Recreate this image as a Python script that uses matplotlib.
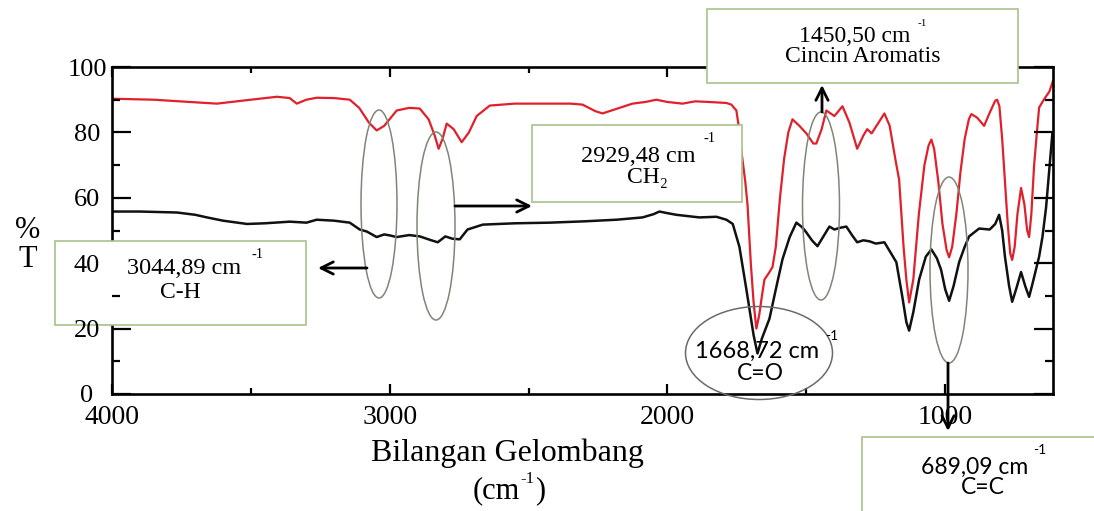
import matplotlib
matplotlib.use("Agg")
import matplotlib.pyplot as plt
from matplotlib.patches import Rectangle, Ellipse
from matplotlib.transforms import Affine2D

# ---------------- data ----------------
red_wn = [4000, 3850, 3700, 3622, 3500, 3406, 3360, 3335, 3300, 3263, 3200, 3144, 3110, 3075,
          3047, 3020, 2975, 2930, 2892, 2860, 2838, 2824, 2810, 2795, 2770, 2741, 2715, 2687,
          2640, 2550, 2450, 2350, 2306, 2260, 2234, 2180, 2126, 2080, 2040, 2000, 1946, 1900,
          1850, 1788, 1770, 1752, 1745, 1735, 1720, 1712, 1700, 1690, 1680, 1670, 1660, 1651,
          1635, 1622, 1610, 1595, 1580, 1565, 1550, 1525, 1500, 1475, 1464, 1445, 1428, 1399,
          1370, 1345, 1317, 1295, 1281, 1265, 1240, 1219, 1200, 1180, 1166, 1150, 1140, 1130,
          1115, 1095, 1075, 1060, 1050, 1040, 1025, 1010, 995, 986, 975, 960, 945, 930, 915,
          906, 885, 860, 840, 820, 813, 805, 795, 785, 775, 766, 759, 750, 740, 727, 715, 705,
          698, 690, 680, 670, 662, 645, 625, 612]
red_t = [90.3, 90.0, 89.2, 88.8, 90.0, 90.9, 90.5, 88.8, 90.0, 90.6, 90.5, 90.0, 87.5, 83.0,
         80.6, 82.0, 86.7, 87.5, 87.3, 84.0, 79.0, 75.0, 78.0, 82.7, 81.0, 77.0, 80.0, 85.0,
         88.2, 88.8, 88.8, 88.8, 88.5, 86.5, 85.8, 87.3, 88.8, 89.3, 90.0, 89.3, 88.8, 89.5,
         89.3, 89.0, 88.5, 86.7, 82.7, 75.0, 65.0, 58.0, 40.0, 28.0, 20.0, 24.0, 30.0, 35.0,
         37.0, 38.8, 45.0, 60.0, 72.0, 80.0, 84.0, 82.0, 79.7, 76.6, 76.6, 81.0, 86.7, 85.0,
         88.0, 83.0, 75.0, 79.0, 81.0, 79.7, 83.0, 85.8, 82.0, 72.0, 65.5, 45.0, 35.0, 28.0,
         35.0, 55.0, 70.0, 76.0, 77.8, 75.0, 65.0, 52.0, 44.0, 41.8, 45.0, 55.0, 68.0, 78.0, 84.0,
         85.6, 84.5, 82.0, 86.0, 89.7, 90.0, 88.0, 78.0, 65.0, 52.0, 43.0, 41.0, 45.0, 55.0, 63.0, 58.0, 50.0,
         48.0, 55.0, 70.0, 80.0, 87.6, 90.0, 92.5, 95.8]

black_wn = [4000, 3900, 3766, 3700, 3658, 3600, 3514, 3450, 3360, 3300, 3263, 3200, 3144, 3108,
            3083, 3047, 3020, 3000, 2975, 2930, 2892, 2850, 2827, 2800, 2775, 2748, 2720, 2665,
            2550, 2424, 2300, 2183, 2090, 2050, 2029, 2000, 1968, 1885, 1824, 1788, 1765, 1752,
            1741, 1716, 1690, 1676, 1660, 1633, 1610, 1586, 1560, 1536, 1515, 1500, 1480, 1460,
            1440, 1417, 1399, 1380, 1356, 1335, 1317, 1295, 1273, 1250, 1219, 1195, 1176, 1155,
            1140, 1130, 1115, 1094, 1070, 1050, 1030, 1015, 1000, 986, 970, 950, 930, 914, 878,
            840, 820, 806, 795, 785, 770, 759, 745, 727, 712, 698, 685, 662, 650, 637, 626, 614]
black_t = [55.8, 55.8, 55.5, 54.8, 54.0, 53.0, 52.0, 52.2, 52.7, 52.4, 53.3, 53.0, 52.4, 50.3,
           49.7, 48.0, 48.8, 48.5, 48.0, 48.6, 48.2, 47.0, 46.4, 48.2, 47.5, 47.3, 50.3, 51.8,
           52.2, 52.4, 52.8, 53.3, 54.0, 55.0, 55.8, 55.3, 54.8, 54.0, 54.2, 53.3, 52.0, 48.2,
           45.0, 32.0, 18.0, 12.4, 17.0, 23.0, 32.0, 41.2, 48.0, 52.4, 51.0, 49.4, 47.0, 45.2,
           48.0, 51.2, 50.3, 50.8, 51.2, 48.5, 46.4, 47.0, 46.7, 46.0, 46.4, 43.0, 40.3, 30.0,
           22.0, 19.4, 25.0, 35.0, 42.0, 44.2, 41.5, 38.0, 32.0, 28.5, 33.0, 40.3, 45.0, 48.2, 50.6,
           50.3, 52.0, 54.8, 50.0, 42.0, 33.0, 28.2, 32.0, 37.3, 33.0, 29.7, 34.0, 42.0, 48.0, 57.0, 68.0, 80.0]

x_major = [4000, 3000, 2000, 1000]
x_minor = [3500, 2500, 1500]
y_major = [0, 20, 40, 60, 80, 100]
y_minor = [10, 30, 50, 70, 90]

# ---------------- figure ----------------
W, H = 1094, 511
fig = plt.figure(figsize=(W / 100, H / 100), dpi=100)
serif = ["Liberation Serif", "DejaVu Serif"]
sans = ["Lato", "DejaVu Sans"]

L, R, T, B = 112, 1053, 67, 394
ax = fig.add_axes([L / W, 1 - B / H, (R - L) / W, (B - T) / H])
ax.plot(red_wn, red_t, color="#e0202a", lw=1.6, zorder=2, solid_joinstyle="round")
ax.plot(black_wn, black_t, color="#111111", lw=1.8, zorder=2.1, solid_joinstyle="round")
ax.set_xlim(4000, 612)
ax.set_ylim(0, 99.5)

for s in ax.spines.values():
    s.set_linewidth(1.9)
    s.set_zorder(2.2)

ax.set_xticks(x_major)
ax.set_xticks(x_minor, minor=True)
ax.set_yticks(y_major)
ax.set_yticks(y_minor, minor=True)
ax.tick_params(axis="x", which="major", direction="in", length=7, width=1.6,
               top=True, labelsize=20, pad=8)
ax.tick_params(axis="x", which="minor", direction="in", length=4, width=1.6, top=True)
ax.tick_params(axis="y", which="major", direction="in", length=14, width=1.6,
               right=True, labelsize=19, pad=18)
ax.tick_params(axis="y", which="minor", direction="in", length=6, width=1.6, right=True)
for lab in ax.get_xticklabels() + ax.get_yticklabels():
    lab.set_fontfamily(serif)
for lab in ax.get_yticklabels():
    lab.set_horizontalalignment("center")
ax.yaxis.get_major_ticks()[2].tick1line.set_visible(False)
ax.yaxis.set_zorder(4)

# pixel transform (origin top-left)
px = Affine2D().scale(1 / W, -1 / H).translate(0, 1) + fig.transFigure

def box(x0, y0, x1, y1):
    ax.add_patch(Rectangle((x0, y0), x1 - x0, y1 - y0, transform=px, facecolor="white",
                           edgecolor="#a7c28a", lw=1.2, zorder=3, clip_on=False))

def ell(cx, cy, w, h, color="#7d8775"):
    ax.add_patch(Ellipse((cx, cy), w, h, transform=px, fill=False, edgecolor=color,
                         lw=1.1, zorder=2.5, clip_on=False))

def txt(x, y, s, size, fam=serif, ha="center"):
    ax.text(x, y, s, transform=px, fontsize=size, family=fam, ha=ha, va="center",
            zorder=5, clip_on=False)

def arrow(x0, y0, x1, y1):
    ax.annotate("", xy=(x1, y1), xytext=(x0, y0), xycoords=px, textcoords=px,
                arrowprops=dict(arrowstyle="->", lw=2.0, color="black", mutation_scale=22,
                                shrinkA=0, shrinkB=0), zorder=5, annotation_clip=False)

# green ellipses
ell(379, 204, 36, 188)
ell(436, 226, 38, 188)
ell(821, 206, 37, 188)
ell(949, 270, 38, 186)

# boxes
box(55, 241, 306, 325)
box(532, 125, 742, 202)
box(707, 9, 1018, 83)
box(862, 437, 1110, 530)

# box texts
txt(184, 268, "3044,89 cm", 17.5)
txt(258, 255, "-1", 10.5)
txt(180, 292, "C-H", 17)

txt(638, 156, "2929,48 cm", 17.5)
txt(710, 138, "-1", 10.5)
txt(647, 178, "CH\u2082", 17)

txt(855, 36, "1450,50 cm", 17)
txt(922, 24, "-1", 8)
txt(863, 57, "Cincin Aromatis", 17)

txt(975, 467, "689,09 cm", 16.5, sans)
txt(1040, 450, "-1", 10, sans)
txt(983, 488, "C=C", 16.5, sans)

# C=O ellipse
ell(759, 353, 147, 93, color="#6a6a6a")
txt(757, 351, "1668,72 cm", 17, sans)
txt(832, 336, "-1", 10, sans)
txt(760, 373, "C=O", 16.5, sans)

# arrows
arrow(367, 268, 318, 268)
arrow(455, 206, 532, 206)
arrow(822, 112, 822, 85)
arrow(948, 363, 948, 431)

# axis titles
fig.text(28 / W, 1 - 230 / H, "%", fontsize=22, family=serif, ha="center", va="center")
fig.text(28 / W, 1 - 259 / H, "T", fontsize=22, family=serif, ha="center", va="center")
fig.text(507 / W, 1 - 453 / H, "Bilangan Gelombang", fontsize=23, family=serif,
         ha="center", va="center")
fig.text(520 / W, 1 - 491 / H, "(cm", fontsize=22, family=serif, ha="right", va="center")
fig.text(527 / W, 1 - 479 / H, "-1", fontsize=12, family=serif, ha="center", va="center")
fig.text(535 / W, 1 - 491 / H, ")", fontsize=22, family=serif, ha="left", va="center")

fig.savefig("out.png", dpi=100)
